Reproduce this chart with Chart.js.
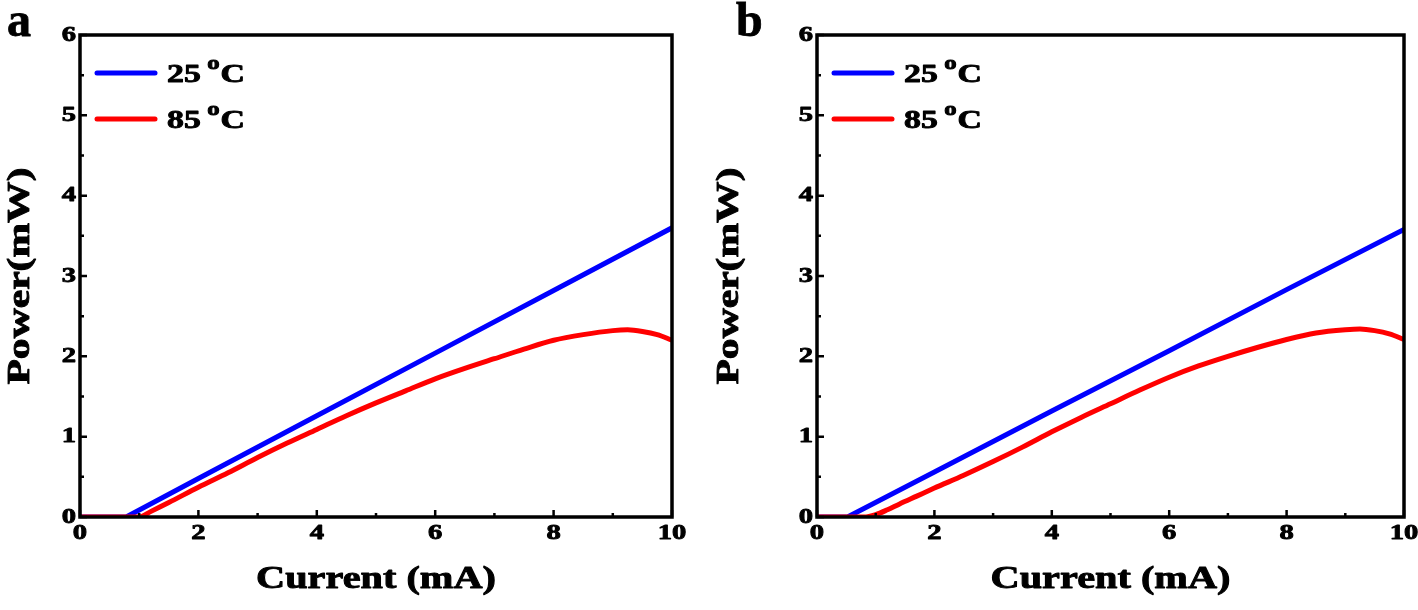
<!DOCTYPE html>
<html><head><meta charset="utf-8">
<script src="https://cdn.jsdelivr.net/npm/chart.js@4.4.1/dist/chart.umd.min.js"></script>
<style>
html,body{margin:0;padding:0;background:#fff;width:1418px;height:610px;overflow:hidden;}
.panel{position:absolute;top:0;width:709px;height:610px;}
.panel canvas{display:block;}
.letter{position:absolute;top:-4px;font:bold 48px "Liberation Serif","Times New Roman",serif;line-height:48px;color:#000;-webkit-text-stroke:0.8px #000;}
</style></head><body>
<div class="panel" style="left:0"><canvas id="ca" width="709" height="610" style="width:709px;height:610px"></canvas></div>
<div class="panel" style="left:709px"><canvas id="cb" width="709" height="610" style="width:709px;height:610px"></canvas></div>
<div class="letter" style="left:7px">a</div>
<div class="letter" style="left:736px">b</div>
<script>
// ---- data ----
const seriesLabels = ['25 °C', '85 °C'];
const xTicks = [0, 2, 4, 6, 8, 10];
const yTicks = [0, 1, 2, 3, 4, 5, 6];
const xTitle = 'Current (mA)';
const yTitle = 'Power(mW)';

const aBlueX = [0, 0.78, 2, 4, 6, 8, 10];
const aBlueY = [0, 0, 0.48, 1.26, 2.04, 2.82, 3.6];
const aRedX = [0, 1.0, 1.2, 1.5, 2, 2.5, 3, 3.5, 4, 4.5, 5, 5.5, 6, 6.5, 7, 7.5, 8, 8.5, 9, 9.25, 9.5, 9.75, 10];
const aRedY = [0, 0, 0.07, 0.18, 0.37, 0.55, 0.74, 0.92, 1.09, 1.26, 1.42, 1.57, 1.72, 1.85, 1.97, 2.09, 2.2, 2.27, 2.32, 2.33, 2.31, 2.27, 2.2];

const bBlueX = [0, 0.52, 2, 4, 6, 8, 10];
const bBlueY = [0, 0, 0.56, 1.32, 2.07, 2.83, 3.58];
const bRedX = [0, 0.8, 1.0, 1.2, 1.4, 1.7, 2, 2.5, 3, 3.5, 4, 4.5, 5, 5.5, 6, 6.5, 7, 7.5, 8, 8.5, 9, 9.25, 9.5, 9.75, 10];
const bRedY = [0, 0, 0.03, 0.09, 0.16, 0.26, 0.36, 0.52, 0.69, 0.87, 1.06, 1.24, 1.41, 1.58, 1.74, 1.88, 2.0, 2.11, 2.21, 2.29, 2.33, 2.34, 2.32, 2.28, 2.21];

const colors = ['#0000ff', '#ff0000'];
const FONT = '"Liberation Serif","Times New Roman",serif';
const S = 1.3; // horizontal stretch of the bold serif text

function pts(xs, ys) { return xs.map((x, i) => ({x: x, y: ys[i]})); }

function stretchText(canvas) {
  const ctx = canvas.getContext('2d');
  const orig = ctx.fillText;
  const origStroke = ctx.strokeText;
  ctx.fillText = function (t, x, y) {
    this.save();
    this.translate(x, y);
    this.scale(S, 1);
    orig.call(this, t, 0, 0);
    this.strokeStyle = this.fillStyle;
    this.lineWidth = 0.9;
    this.lineJoin = 'round';
    origStroke.call(this, t, 0, 0);
    this.restore();
  };
  return ctx;
}

const framePlugin = {
  id: 'frame',
  afterDatasetsDraw(chart) {
    const {ctx, chartArea: a, scales: {x, y}} = chart;
    ctx.save();
    ctx.strokeStyle = '#000';
    ctx.lineCap = 'butt';
    ctx.beginPath();
    for (let v = 0; v <= 10; v += 1) {
      const px = x.getPixelForValue(v);
      const len = v % 2 === 0 ? 7 : 4;
      ctx.moveTo(px, a.bottom); ctx.lineTo(px, a.bottom - len);
    }
    for (let k = 0; k <= 12; k++) {
      const py = y.getPixelForValue(k / 2);
      const len = k % 2 === 0 ? 7 : 4;
      ctx.moveTo(a.left, py); ctx.lineTo(a.left + len, py);
    }
    ctx.lineWidth = 2.5;
    ctx.stroke();
    ctx.lineWidth = 3.5;
    ctx.strokeRect(a.left, a.top, a.right - a.left, a.bottom - a.top);

    // legend
    chart.data.datasets.forEach((ds, i) => {
      const y0 = a.top + 38 + i * 46;
      ctx.strokeStyle = ds.borderColor;
      ctx.lineWidth = 5;
      ctx.lineCap = 'round';
      ctx.beginPath();
      ctx.moveTo(a.left + 17, y0); ctx.lineTo(a.left + 75, y0);
      ctx.stroke();
      ctx.fillStyle = '#000';
      ctx.textAlign = 'left';
      ctx.textBaseline = 'alphabetic';
      const parts = ds.label.split('°');
      let xx = a.left + 87;
      ctx.font = 'bold 26px ' + FONT;
      ctx.fillText(parts[0], xx, y0 + 9);
      xx += ctx.measureText(parts[0]).width * S;
      if (parts.length > 1) {
        ctx.font = 'bold 19px ' + FONT;
        ctx.fillText('o', xx - 2, y0 - 4);
        xx += ctx.measureText('o').width * S - 1;
        ctx.font = 'bold 26px ' + FONT;
        ctx.fillText(parts[1], xx, y0 + 9);
      }
    });
    ctx.restore();
  }
};

function makeChart(id, blueX, blueY, redX, redY, leftW, rightPad) {
  const canvas = document.getElementById(id);
  const ctx = stretchText(canvas);
  return new Chart(ctx, {
    type: 'line',
    data: {
      datasets: [
        {label: seriesLabels[0], data: pts(blueX, blueY), borderColor: colors[0], borderWidth: 5, pointRadius: 0, order: 1, tension: 0, fill: false},
        {label: seriesLabels[1], data: pts(redX, redY), borderColor: colors[1], borderWidth: 5, pointRadius: 0, order: 0, cubicInterpolationMode: 'monotone', fill: false, borderJoinStyle: 'round'}
      ]
    },
    options: {
      responsive: false,
      animation: false,
      events: [],
      layout: {padding: {top: 35, right: rightPad, left: 0, bottom: 0}},
      plugins: {legend: {display: false}, tooltip: {enabled: false}},
      scales: {
        x: {
          type: 'linear', min: 0, max: 10,
          afterBuildTicks: s => { s.ticks = xTicks.map(v => ({value: v})); },
          afterFit: s => { s.height = 93; },
          grid: {display: false, drawTicks: false},
          border: {display: false},
          ticks: {color: '#000', font: {family: FONT, weight: 'bold', size: 22}, padding: 3, maxRotation: 0, autoSkip: false},
          title: {display: true, text: xTitle, color: '#000', font: {family: FONT, weight: 'bold', size: 31}, padding: {top: 0, bottom: 11}}
        },
        y: {
          type: 'linear', min: 0, max: 6,
          afterBuildTicks: s => { s.ticks = yTicks.map(v => ({value: v})); },
          afterFit: s => { s.width = leftW; },
          grid: {display: false, drawTicks: false},
          border: {display: false},
          ticks: {color: '#000', font: {family: FONT, weight: 'bold', size: 22}, padding: 4},
          title: {display: true, text: yTitle, color: '#000', font: {family: FONT, weight: 'bold', size: 32}, padding: {top: 2, bottom: 0}}
        }
      }
    },
    plugins: [framePlugin]
  });
}

makeChart('ca', aBlueX, aBlueY, aRedX, aRedY, 80, 37);
makeChart('cb', bBlueX, bBlueY, bRedX, bRedY, 108, 10);
</script>
</body></html>
